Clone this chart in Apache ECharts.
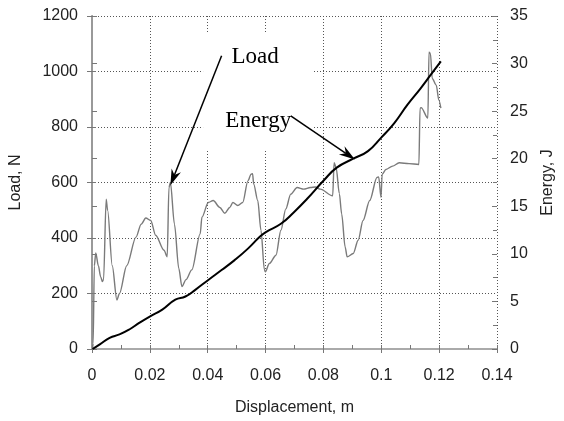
<!DOCTYPE html>
<html><head><meta charset="utf-8">
<script src="https://cdn.jsdelivr.net/npm/echarts@6/dist/echarts.min.js"></script>
<style>html,body{margin:0;padding:0;background:#fff}#c{width:564px;height:421px}</style>
</head><body><div id="c"></div>
<script>
// ---- data ----
const loadX = [0.0002,0.0004,0.0008,0.0013,0.0022,0.0030,0.0036,0.0040,0.0049,0.0054,0.0070,0.0086,0.0095,0.0120,0.0152,0.0170,0.0186,0.0203,0.0220,0.0249,0.0260,0.0266,0.0271,0.0285,0.0300,0.0311,0.0325,0.0345,0.0374,0.0380,0.0402,0.0419,0.0442,0.0459,0.0476,0.0487,0.0504,0.0521,0.0539,0.0550,0.0555,0.0559,0.0573,0.0584,0.0596,0.0599,0.0613,0.0636,0.0653,0.0670,0.0687,0.0709,0.0732,0.0755,0.0772,0.0789,0.0832,0.0837,0.0844,0.0855,0.0863,0.0875,0.0882,0.0903,0.0920,0.0937,0.0960,0.0985,0.0991,0.0999,0.1003,0.1016,0.1039,0.1062,0.1096,0.1130,0.1134,0.1138,0.1161,0.1165,0.1170,0.1176,0.1190,0.1199,0.1206];
const loadY = [0,20,300,346,300,260,243,250,540,500,300,177,200,300,403,450,472,463,410,356,332,582,600,450,290,225,250,285,415,475,528,535,510,489,510,528,517,528,606,630,632,594,535,428,285,278,308,338,428,505,558,582,576,582,584,576,552,671,653,560,487,368,332,344,392,463,535,618,620,546,630,647,659,671,668,665,868,870,832,1070,1064,975,951,897,868];
const energyX = [0.0002,0.0027,0.0061,0.0095,0.0129,0.0163,0.0201,0.0243,0.0288,0.0323,0.0357,0.0402,0.0448,0.0493,0.0539,0.0579,0.0601,0.0653,0.0698,0.0743,0.0800,0.0846,0.0903,0.0954,0.0999,0.1045,0.1090,0.1136,0.1170,0.1206];
const energyY = [0,0.49,1.18,1.53,2.05,2.74,3.44,4.14,5.18,5.52,6.22,7.26,8.30,9.34,10.55,11.77,12.29,13.16,14.38,15.76,17.68,19.06,20.0,20.8,22.19,23.75,25.66,27.40,28.78,30.24];
const xTicks = [0,0.02,0.04,0.06,0.08,0.1,0.12,0.14];
const loadTicks = [0,200,400,600,800,1000,1200];
const energyTicks = [0,5,10,15,20,25,30,35];
const axisNames = ['Displacement, m','Load, N','Energy, J'];
const noteTexts = ['Load','Energy'];

const FONT = 'Liberation Sans, Arial, sans-serif';
const lbl = {fontFamily: FONT, fontSize: 16, color: '#222', formatter: v => String(+(+v).toFixed(4))};
const dotted = {show: true, lineStyle: {color: '#555', width: 1, type: [1, 2]}};
const xr = {min: xTicks[0], max: xTicks[xTicks.length-1], interval: xTicks[1]-xTicks[0]};
const lr = {min: loadTicks[0], max: loadTicks[loadTicks.length-1], interval: loadTicks[1]-loadTicks[0]};
const er = {min: energyTicks[0], max: energyTicks[energyTicks.length-1], interval: energyTicks[1]-energyTicks[0]};

const option = {
  animation: false,
  backgroundColor: '#fff',
  grid: {left: 90, right: 62, top: 16, bottom: 69, containLabel: false},
  xAxis: [
    Object.assign({type: 'value', position: 'bottom',
      axisLine: {show: true, lineStyle: {color: '#999', width: 2}},
      axisTick: {show: true, inside: false, length: 4, lineStyle: {color: '#777'}},
      axisLabel: Object.assign({margin: 19}, lbl),
      splitLine: dotted,
      name: axisNames[0], nameLocation: 'middle', nameGap: 51,
      nameTextStyle: {fontFamily: FONT, fontSize: 16, color: '#222'}}, xr),
    Object.assign({type: 'value', position: 'bottom',
      axisLine: {show: false},
      axisTick: {show: true, inside: true, length: 4, lineStyle: {color: '#777'}},
      minorTick: {show: true, splitNumber: 2, length: 4, lineStyle: {color: '#777'}},
      axisLabel: {show: false}, splitLine: {show: false}}, xr),
    Object.assign({type: 'value', position: 'top',
      axisLine: {show: true, lineStyle: {color: '#aaa', width: 2}},
      axisTick: {show: false}, axisLabel: {show: false}, splitLine: {show: false}}, xr)
  ],
  yAxis: [
    Object.assign({type: 'value', position: 'left',
      axisLine: {show: true, lineStyle: {color: '#777', width: 1}},
      axisTick: {show: true, inside: false, length: 5, lineStyle: {color: '#777'}},
      axisLabel: Object.assign({margin: 14}, lbl),
      splitLine: dotted,
      name: axisNames[1], nameLocation: 'middle', nameGap: 68, nameRotate: 90,
      nameTextStyle: {fontFamily: FONT, fontSize: 16, color: '#222'}}, lr),
    Object.assign({type: 'value', position: 'right',
      axisLine: {show: true, lineStyle: {color: '#999', width: 2}},
      axisTick: {show: true, inside: false, length: 5, lineStyle: {color: '#777'}},
      axisLabel: Object.assign({margin: 13}, lbl),
      splitLine: {show: false},
      name: axisNames[2], nameLocation: 'middle', nameGap: 43, nameRotate: 90,
      nameTextStyle: {fontFamily: FONT, fontSize: 16, color: '#222'}}, er),
    Object.assign({type: 'value', position: 'left',
      axisLine: {show: false},
      axisTick: {show: true, inside: true, length: 4, lineStyle: {color: '#777'}},
      axisLabel: {show: false}, splitLine: {show: false}}, lr),
    Object.assign({type: 'value', position: 'right',
      axisLine: {show: false},
      axisTick: {show: true, inside: true, length: 5, lineStyle: {color: '#777'}},
      minorTick: {show: true, splitNumber: 2, length: 4, lineStyle: {color: '#777'}},
      axisLabel: {show: false}, splitLine: {show: false}}, er)
  ],
  series: [
    {type: 'line', name: 'Load', xAxisIndex: 0, yAxisIndex: 0, showSymbol: false, symbol: 'none',
     smooth: 0.3, smoothMonotone: 'x',
     lineStyle: {color: '#7a7a7a', width: 1.4}, data: loadX.map((x, i) => [x, loadY[i]]), z: 3},
    {type: 'line', name: 'Energy', xAxisIndex: 0, yAxisIndex: 1, showSymbol: false, symbol: 'none',
     smooth: 0.5,
     lineStyle: {color: '#000', width: 2}, data: energyX.map((x, i) => [x, energyY[i]]), z: 4}
  ]
};

const chart = echarts.init(document.getElementById('c'), null, {renderer: 'canvas'});
chart.setOption(option);

const P = (x, y) => chart.convertToPixel({xAxisIndex: 0, yAxisIndex: 0}, [x, y]);
function arrow(tail, tip) {
  const dx = tip[0]-tail[0], dy = tip[1]-tail[1];
  const len = Math.hypot(dx, dy), ux = dx/len, uy = dy/len, nx = -uy, ny = ux;
  const L = 16, W = 5, N = 11;
  const bx = tip[0]-ux*L, by = tip[1]-uy*L;
  const mx = tip[0]-ux*N, my = tip[1]-uy*N;
  return [
    {type: 'line', z: 100, shape: {x1: tail[0], y1: tail[1], x2: mx, y2: my}, style: {stroke: '#000', lineWidth: 1.5}},
    {type: 'polygon', z: 100, shape: {points: [tip, [bx+nx*W, by+ny*W], [mx, my], [bx-nx*W, by-ny*W]]}, style: {fill: '#000'}}
  ];
}
const r1 = P(0.0384, 1139), r2 = P(0.0766, 721);
const graphics = [
  {type: 'rect', z: 50, shape: {x: r1[0], y: r1[1], width: r2[0]-r1[0], height: r2[1]-r1[1]}, style: {fill: '#fff'}},
  {type: 'text', z: 100, x: P(0.0482, 1054)[0], y: P(0.0482, 1054)[1],
   style: {text: noteTexts[0], font: '23px "Liberation Serif", "Times New Roman", serif', fill: '#000', verticalAlign: 'middle', align: 'left'}},
  {type: 'text', z: 100, x: P(0.0461, 820)[0], y: P(0.0461, 820)[1],
   style: {text: noteTexts[1], font: '23px "Liberation Serif", "Times New Roman", serif', fill: '#000', verticalAlign: 'middle', align: 'left'}}
].concat(arrow(P(0.0448, 1057), P(0.0271, 590)), arrow(P(0.0687, 840), P(0.0909, 683)));
chart.setOption({graphic: graphics});
</script>
</body></html>
